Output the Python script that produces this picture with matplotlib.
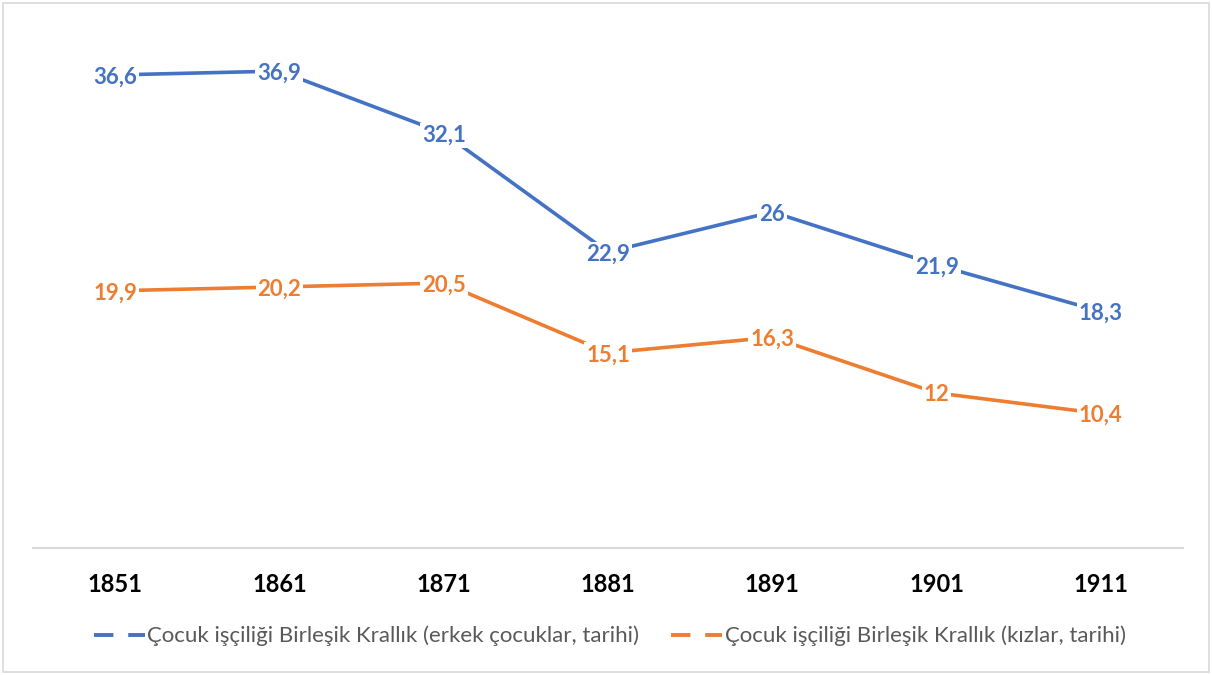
import matplotlib.pyplot as plt
from matplotlib.patches import Rectangle
from matplotlib.lines import Line2D

years = ['1851', '1861', '1871', '1881', '1891', '1901', '1911']
boys = [36.6, 36.9, 32.1, 22.9, 26, 21.9, 18.3]
girls = [19.9, 20.2, 20.5, 15.1, 16.3, 12, 10.4]
boys_label = 'Çocuk işçiliği Birleşik Krallık (erkek çocuklar, tarihi)'
girls_label = 'Çocuk işçiliği Birleşik Krallık (kızlar, tarihi)'

BLUE = '#4472C4'
ORANGE = '#ED7D31'

plt.rcParams['font.family'] = ['Lato', 'DejaVu Sans']

fig = plt.figure(figsize=(12.12, 6.75), dpi=100)
ax = fig.add_axes([33 / 1212, 1 - 548 / 675, 1150 / 1212, 517 / 675])

x = list(range(len(years)))
for vals, col in [(boys, BLUE), (girls, ORANGE)]:
    ax.plot(x, vals, color=col, lw=2.6, solid_capstyle='butt')
    for xi, v in zip(x, vals):
        txt = f'{v:g}'.replace('.', ',')
        ax.annotate(txt, (xi, v), xytext=(0, -1.5), textcoords='offset points',
                    ha='center', va='center', color=col, fontsize=16,
                    fontweight='bold', zorder=5,
                    bbox=dict(facecolor='white', edgecolor='none', pad=1.5))

ax.set_xlim(-0.5, len(years) - 0.5)
ax.set_ylim(0, 40)
ax.set_xticks(x)
ax.set_xticklabels(years, fontsize=17, fontweight='bold', color='black')
ax.tick_params(axis='x', length=0, pad=18)
ax.set_yticks([])
for s in ['top', 'right', 'left']:
    ax.spines[s].set_visible(False)
ax.spines['bottom'].set_color('#D9D9D9')
ax.spines['bottom'].set_linewidth(1.5)

# legend with dashed handles
handles = [Line2D([], [], color=BLUE, lw=2.8, dashes=(5, 3.8)),
           Line2D([], [], color=ORANGE, lw=2.8, dashes=(5, 3.8))]
fig.legend(handles, [boys_label, girls_label], loc='center',
           bbox_to_anchor=(0.503, 1 - 636 / 675), ncol=2, frameon=False,
           fontsize=16, labelcolor='#595959', handlelength=2.3,
           handletextpad=0.1, columnspacing=1.45)

fig.patches.append(Rectangle((3 / 1212, 3 / 675), 1206 / 1212, 669 / 675,
                             transform=fig.transFigure, fill=False,
                             edgecolor='#D9D9D9', lw=1.2))

fig.savefig('out.png', dpi=100)
